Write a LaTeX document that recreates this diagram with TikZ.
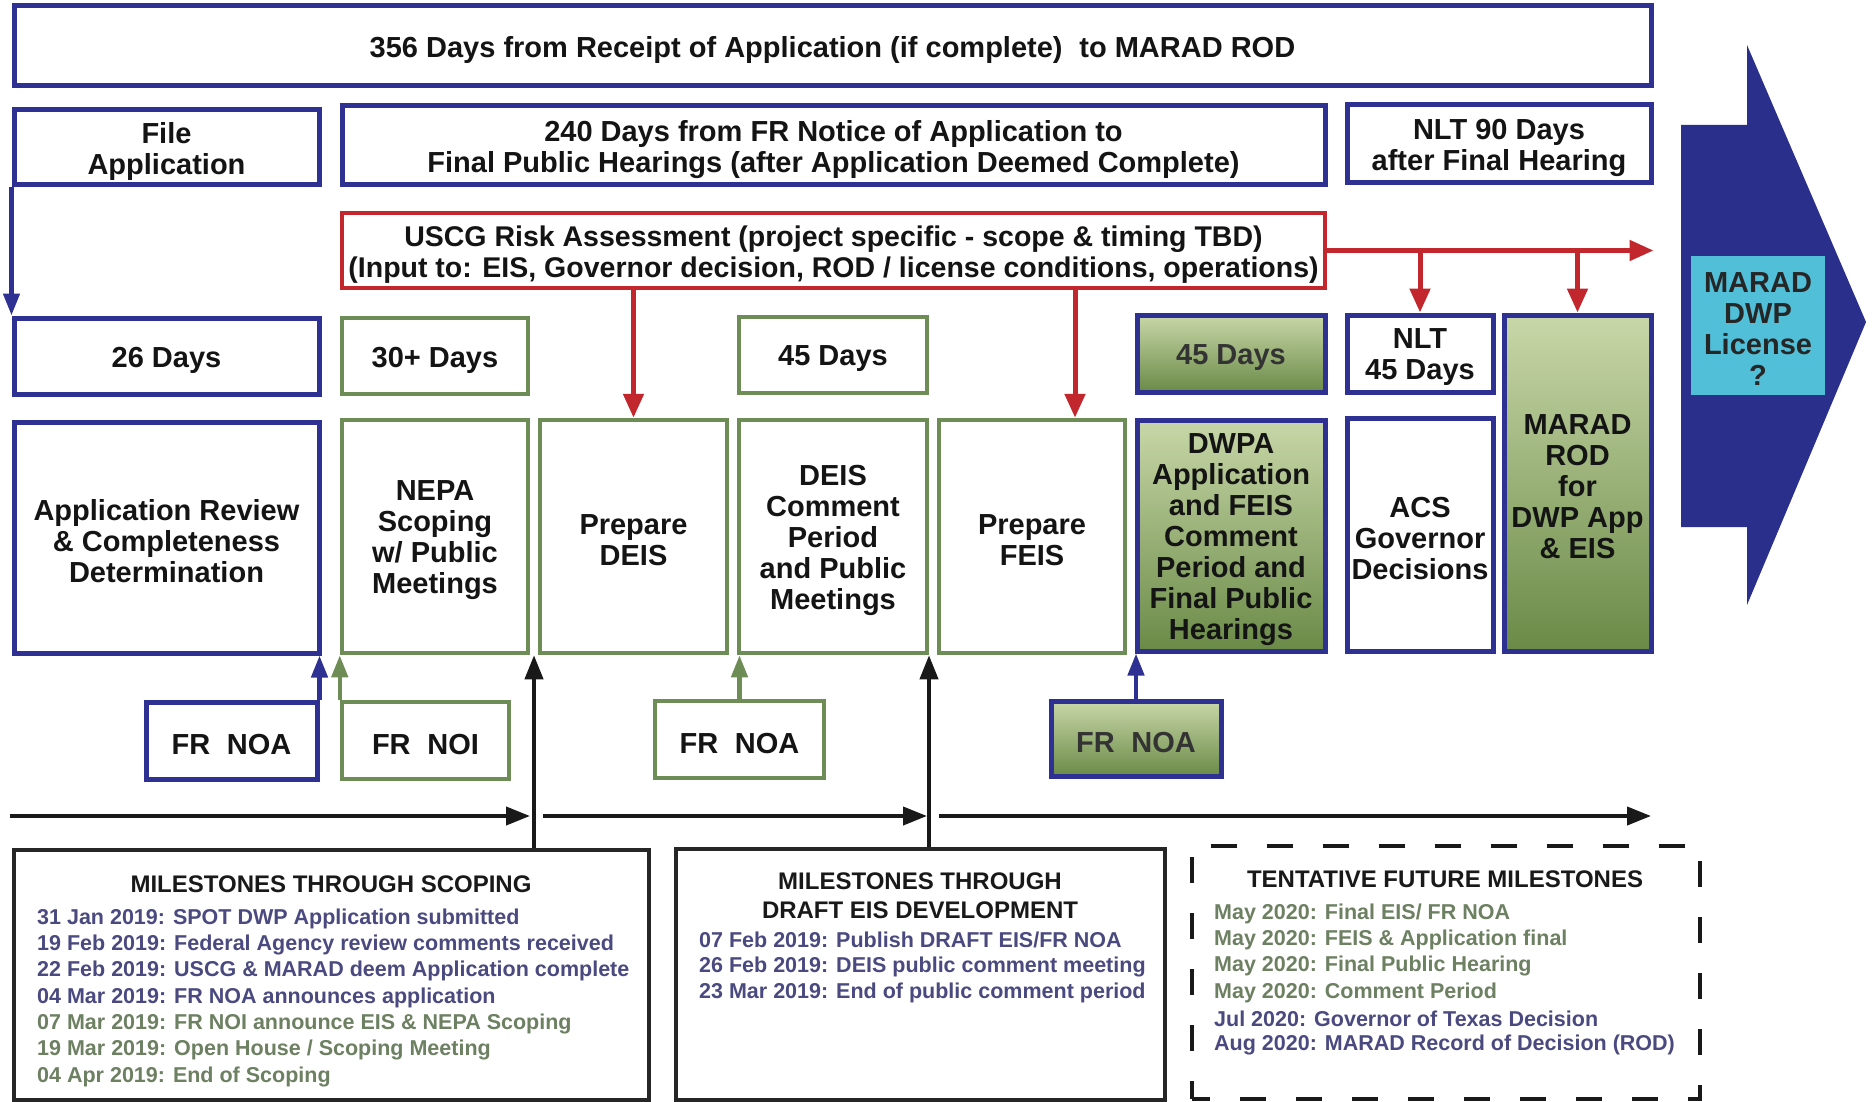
\documentclass[tikz,border=0pt]{standalone}
\usepackage{fontspec}
\setmainfont{Liberation Sans}
\usetikzlibrary{arrows.meta}
\definecolor{navy}{HTML}{2E3192}
\definecolor{arrowblue}{HTML}{2B2F8C}
\definecolor{grnb}{HTML}{6E8C55}
\definecolor{redc}{HTML}{C1272D}
\definecolor{gtop}{HTML}{C8D7A8}
\definecolor{gbot}{HTML}{6A8A47}
\definecolor{cyanb}{HTML}{52BFD9}
\definecolor{mblue}{HTML}{4A4A80}
\definecolor{mgreen}{HTML}{6D8062}
\definecolor{txt}{HTML}{141414}
% #1 optional text options, #2 name, #3 box style, #4-#7 corners, #8 text
\newcommand\bx[8][]{%
  \node[#3, minimum width={#6-#4}, minimum height={#7-#5}] (#2) at ({(#4+#6)/2},{(#5+#7)/2}) {};
  \node[tbox, #1] (#2-t) at ([yshift=-4pt]#2.center) {#8};}
\begin{document}
\begin{tikzpicture}[x=1pt,y=-1pt,
  tbox/.style={rectangle, inner sep=0pt, align=center, text=txt, font=\bfseries\fontsize{29}{31}\selectfont},
  box/.style={rectangle, inner sep=0pt},
  bb/.style={box, draw=navy, line width=5pt, fill=white},
  gb/.style={box, draw=grnb, line width=4.5pt, fill=white},
  gg/.style={box, draw=navy, line width=5pt, top color=gtop, bottom color=gbot},
  rb/.style={box, draw=redc, line width=4.5pt, fill=white},
  mbox/.style={rectangle, draw=black!85, line width=3.5pt, inner sep=0pt, fill=white},
  mtitle/.style={font=\bfseries\fontsize{24}{29}\selectfont, align=center, text=black!90, inner sep=0pt},
  ment/.style={font=\bfseries\fontsize{21.5}{26}\selectfont, anchor=west, inner sep=0pt},
  redarrow/.style={draw=redc, line width=5pt, -{Triangle[length=24pt,width=20pt]}},
  navarrow/.style={draw=navy, line width=4.5pt, -{Triangle[length=22pt,width=16pt]}},
  grnarrow/.style={draw=grnb, line width=4.5pt, -{Triangle[length=22pt,width=16pt]}},
  blkarrow/.style={draw=black!90, line width=4pt, -{Triangle[length=24pt,width=18pt]}}
]
\useasboundingbox (0,0) rectangle (1873,1102);
\fill[white] (0,0) rectangle (1873,1102);

% top rows
\bx{top}{bb}{14}{6}{1651}{86}{356 Days from Receipt of Application (if complete)\hspace{0.3em} to MARAD ROD}
\bx{file}{bb}{14}{110}{319}{185}{File\\Application}
\bx{d240}{bb}{342}{106}{1325}{185}{240 Days from FR Notice of Application to\\Final Public Hearings (after Application Deemed Complete)}
\bx{nlt90}{bb}{1347}{105}{1651}{183}{NLT 90 Days\\after Final Hearing}
\bx[font=\bfseries\fontsize{28.5}{31}\selectfont]{uscg}{rb}{342}{213}{1325}{288}{USCG Risk Assessment (project specific - scope \& timing TBD)\\(Input to: EIS, Governor decision, ROD / license conditions, operations)}

% days row
\bx{d26}{bb}{14}{318}{319}{394}{26 Days}
\bx{d30}{gb}{342}{318}{528}{394}{30+ Days}
\bx{d45a}{gb}{739}{317}{927}{393}{45 Days}
\bx[text=black!80]{d45b}{gg}{1137}{315}{1325}{392}{45 Days}
\bx{nlt45}{bb}{1347}{315}{1493}{392}{NLT\\45 Days}
\bx{rod}{gg}{1504}{315}{1651}{651}{MARAD\\ROD\\for\\DWP App\\\& EIS}

% main row
\bx{appr}{bb}{14}{422}{319}{653}{Application Review\\\& Completeness\\Determination}
\bx{nepa}{gb}{342}{420}{528}{653}{NEPA\\Scoping\\w/ Public\\Meetings}
\bx{pdeis}{gb}{540}{420}{727}{653}{Prepare\\DEIS}
\bx{deisc}{gb}{739}{420}{927}{653}{DEIS\\Comment\\Period\\and Public\\Meetings}
\bx{pfeis}{gb}{939}{420}{1125}{653}{Prepare\\FEIS}
\bx{dwpa}{gg}{1137}{420}{1325}{651}{DWPA\\Application\\and FEIS\\Comment\\Period and\\Final Public\\Hearings}
\bx{acs}{bb}{1347}{418}{1493}{651}{ACS\\Governor\\Decisions}

% FR notices
\bx{noa1}{bb}{146}{702}{317}{779}{FR\hspace{0.3em} NOA}
\bx{noi}{gb}{342}{702}{509}{779}{FR\hspace{0.3em} NOI}
\bx{noa2}{gb}{655}{701}{824}{778}{FR\hspace{0.3em} NOA}
\bx[text=black!80]{noa3}{gg}{1051}{701}{1221}{776}{FR\hspace{0.3em} NOA}

% big arrow and license
\fill[arrowblue] (1681,125) -- (1747,125) -- (1747,45) -- (1866,322) -- (1747,605) -- (1747,527) -- (1681,527) -- cycle;
\bx[text=black!85]{lic}{box, fill=cyanb}{1691}{256}{1825}{395}{MARAD\\DWP\\License\\?}

% milestone boxes
\node[mbox, minimum width=635pt, minimum height=250pt] (ms1) at (331.5,975) {};
\node[mbox, minimum width=489pt, minimum height=251pt] (ms2) at (920.5,974.5) {};
\node[rectangle, draw=black!90, line width=4.5pt, dash pattern=on 26pt off 30pt, dash phase=8pt, inner sep=0pt, minimum width=508pt, minimum height=253pt] (ms3) at (1446,972.5) {};

\node[mtitle] (t1) at (331,884) {MILESTONES THROUGH SCOPING};
\node[ment, text=mblue] (a1) at (37,918.5) {31 Jan 2019: SPOT DWP Application submitted};
\node[ment, text=mblue] (a2) at (37,944.5) {19 Feb 2019: Federal Agency review comments received};
\node[ment, text=mblue] (a3) at (37,971) {22 Feb 2019: USCG \& MARAD deem Application complete};
\node[ment, text=mblue] (a4) at (37,997.5) {04 Mar 2019: FR NOA announces application};
\node[ment, text=mgreen] (a5) at (37,1023.5) {07 Mar 2019: FR NOI announce EIS \& NEPA Scoping};
\node[ment, text=mgreen] (a6) at (37,1050) {19 Mar 2019: Open House / Scoping Meeting};
\node[ment, text=mgreen] (a7) at (37,1076.5) {04 Apr 2019: End of Scoping};

\node[mtitle] (t2) at (920,896) {MILESTONES THROUGH\\DRAFT EIS DEVELOPMENT};
\node[ment, text=mblue] (b1) at (699,940) {07 Feb 2019: Publish DRAFT EIS/FR NOA};
\node[ment, text=mblue] (b2) at (699,966.5) {26 Feb 2019: DEIS public comment meeting};
\node[ment, text=mblue] (b3) at (699,993) {23 Mar 2019: End of public comment period};

\node[mtitle] (t3) at (1445,879) {TENTATIVE FUTURE MILESTONES};
\node[ment, text=mgreen] (c1) at (1214,913.5) {May 2020: Final EIS/ FR NOA};
\node[ment, text=mgreen] (c2) at (1214,939.5) {May 2020: FEIS \& Application final};
\node[ment, text=mgreen] (c3) at (1214,966) {May 2020: Final Public Hearing};
\node[ment, text=mgreen] (c4) at (1214,992.5) {May 2020: Comment Period};
\node[ment, text=mblue] (c5) at (1214,1018.5) {Jul 2020: Governor of Texas Decision};
\node[ment, text=mblue] (c6) at (1214,1045) {Aug 2020: MARAD Record of Decision (ROD)};

% connectors
\draw[navarrow] (file.south west) -- (d26.north west);
\coordinate (fx) at (1075,0);
\draw[redarrow] (uscg.east) -- (uscg.east -| nlt90.east);
\draw[redarrow] (uscg.east -| nlt45) -- (nlt45.north);
\draw[redarrow] (uscg.east -| rod) -- (rod.north);
\draw[redarrow] (uscg.south -| pdeis) -- (pdeis.north);
\draw[redarrow] (uscg.south -| fx) -- (pfeis.north -| fx);

\draw[navarrow] (noa1.north east) -- (noa1.north east |- appr.south);
\draw[grnarrow] (noi.north west) -- (nepa.south west);
\draw[grnarrow] (noa2.north) -- (noa2.north |- deisc.south);
\draw[navarrow] (noa3.north) -- (noa3.north |- dwpa.south);

\coordinate (t0) at (10,816);
\coordinate (tA) at (530,816);
\coordinate (tB) at (543,816);
\coordinate (tC) at (927,816);
\coordinate (tD) at (939,816);
\coordinate (tE) at (1651,816);
\draw[blkarrow] (t0) -- (tA);
\draw[blkarrow] (tB) -- (tC);
\draw[blkarrow] (tD) -- (tE);
\coordinate (v1) at (534,0);
\coordinate (v2) at (929,0);
\draw[blkarrow] (ms1.north -| v1) -- (nepa.south -| v1);
\draw[blkarrow] (ms2.north -| v2) -- (deisc.south -| v2);
\end{tikzpicture}
\end{document}
